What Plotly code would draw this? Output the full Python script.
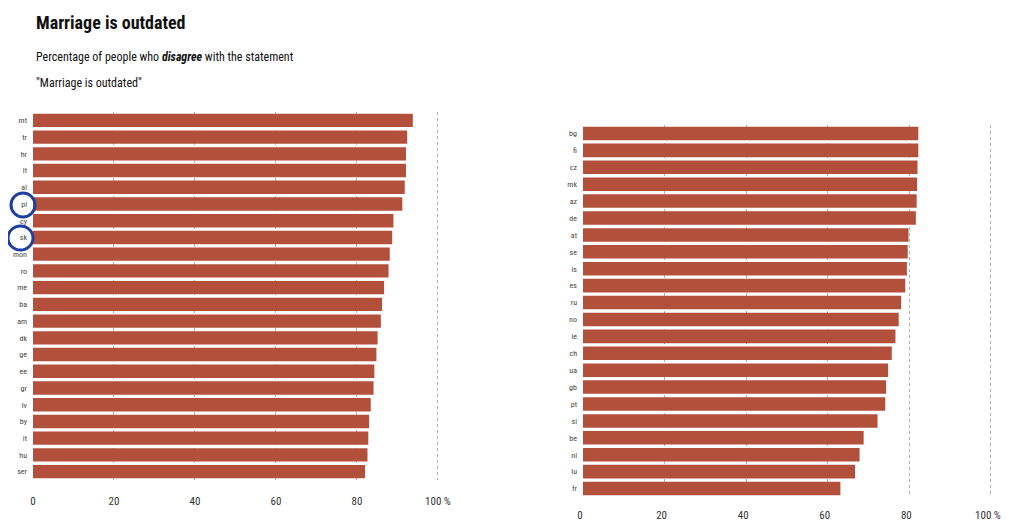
import plotly.graph_objects as go

# ---- data ----
left_countries = ["mt", "tr", "hr", "lt", "al", "pl", "cy", "sk", "mon", "ro", "me",
                  "ba", "am", "dk", "ge", "ee", "gr", "lv", "by", "it", "hu", "ser"]
left_values = [93.8, 92.4, 92.1, 92.1, 91.8, 91.2, 89.0, 88.7, 88.1, 87.8, 86.7,
               86.2, 85.9, 85.1, 84.8, 84.3, 84.1, 83.4, 83.0, 82.8, 82.6, 82.0]

right_countries = ["bg", "fi", "cz", "mk", "az", "de", "at", "se", "is", "es", "ru",
                   "no", "ie", "ch", "ua", "gb", "pt", "si", "be", "nl", "lu", "fr"]
right_values = [82.2, 82.2, 82.0, 81.9, 81.8, 81.6, 79.8, 79.6, 79.4, 79.0, 78.0,
                77.4, 76.6, 75.7, 74.8, 74.3, 74.1, 72.2, 68.8, 67.8, 66.7, 63.1]

tick_vals = [0, 20, 40, 60, 80, 100]
tick_text = ["0", "20", "40", "60", "80", "100 %"]

BAR = "#b3503b"
FONT = "Liberation Sans Narrow, Roboto Condensed, Arial Narrow, Roboto, sans-serif"
OFF = 8  # page body margin
W, H = 1009 - OFF, 529 - 2 * OFF

fig = go.Figure()
fig.add_trace(go.Bar(x=left_values, y=left_countries, orientation="h",
                     marker=dict(color=BAR, line=dict(width=0)),
                     xaxis="x", yaxis="y", showlegend=False))
fig.add_trace(go.Bar(x=right_values, y=right_countries, orientation="h",
                     marker=dict(color=BAR, line=dict(width=0)),
                     xaxis="x2", yaxis="y2", showlegend=False))

def px_x(p):
    return (p - OFF) / W

def px_y(p):
    return 1 - (p - OFF) / H

xcommon = dict(range=[0, 101], tickvals=tick_vals, ticktext=tick_text, automargin=False,
               showgrid=True, gridcolor="#b0b0b0", griddash="dot", gridwidth=1,
               zeroline=False, showline=False, ticks="",
               tickfont=dict(family=FONT, size=11, color="#333"))
ycommon = dict(autorange="reversed", showgrid=False, zeroline=False, showline=False,
               ticks="", automargin=False, tickfont=dict(family=FONT, size=8, color="#444"))

fig.update_layout(
    width=W, height=H,
    margin=dict(l=0, r=0, t=0, b=0, autoexpand=False),
    paper_bgcolor="white", plot_bgcolor="white",
    bargap=0.2,
    xaxis=dict(domain=[px_x(33), px_x(442)], anchor="y", ticklabelstandoff=13, **xcommon),
    yaxis=dict(domain=[px_y(480), px_y(112)], anchor="x", ticklabelstandoff=5, **ycommon),
    xaxis2=dict(domain=[px_x(583), px_x(995)], anchor="y2", ticklabelstandoff=10,
                ticklabelshift=-3, **xcommon),
    yaxis2=dict(domain=[px_y(497), px_y(125)], anchor="x2", ticklabelstandoff=5, **ycommon),
    annotations=[
        dict(text="<b>Marriage is outdated</b>", x=px_x(34), y=px_y(10), xref="paper", yref="paper",
             xanchor="left", yanchor="top", showarrow=False,
             font=dict(family=FONT, size=18, color="#111", weight=900)),
        dict(text="Percentage of people who <i><b>disagree</b></i> with the statement",
             x=px_x(34), y=px_y(48), xref="paper", yref="paper",
             xanchor="left", yanchor="top", showarrow=False,
             font=dict(family=FONT, size=12, color="#111")),
        dict(text="\"Marriage is outdated\"",
             x=px_x(34), y=px_y(74), xref="paper", yref="paper",
             xanchor="left", yanchor="top", showarrow=False,
             font=dict(family=FONT, size=12, color="#111")),
    ],
    shapes=[
        dict(type="circle", xref="paper", yref="paper",
             x0=px_x(11), x1=px_x(35), y0=px_y(217), y1=px_y(193),
             line=dict(color="#1f3fa0", width=3)),
        dict(type="circle", xref="paper", yref="paper",
             x0=px_x(8), x1=px_x(33), y0=px_y(250), y1=px_y(226),
             line=dict(color="#1f3fa0", width=3)),
    ],
)

fig.write_html("out.html")
